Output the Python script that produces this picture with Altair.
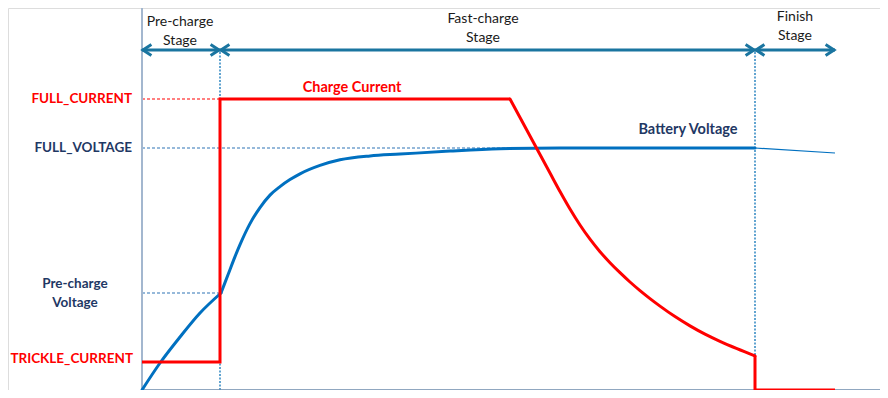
import altair as alt
import pandas as pd

# ---- schematic values (time and level in arbitrary units) ----
stage_bounds = [0, 78, 613, 693]
stage_names = ["Pre-charge\nStage", "Fast-charge\nStage", "Finish\nStage"]
stage_label_t = [38, 341, 653]
stage_label_y = [368, 371, 373]
arrow_level = 340

FULL_CURRENT = 291
FULL_VOLTAGE = 242
PRECHARGE_VOLTAGE = 97
TRICKLE_CURRENT = 28

# charge current: step part, tapering part, terminated part
current_step_t = [0, 78, 78, 368]
current_step_v = [28, 28, 291, 291]
current_taper_t = [368, 378, 388, 398, 408, 418, 428, 438, 448, 458, 468, 478, 488, 498,
                   508, 518, 533, 548, 563, 578, 595, 613]
current_taper_v = [291, 272.5, 254, 235.5, 217, 198.5, 181, 165, 150.8, 138.3, 127.3, 117.3, 108, 99.4,
                   91.4, 83.9, 73.4, 64.1, 55.8, 48.6, 41.3, 34.1]
current_end_t = [613, 613, 693]
current_end_v = [34.1, 0, 0]

# battery voltage: pre-charge part, fast-charge part, finish part
voltage_pre_t = [0, 18, 38, 58, 79]
voltage_pre_v = [0, 27, 53, 77, 97]
voltage_fast_t = [79, 86, 93, 98, 108, 118, 128, 138, 148, 158, 178, 198, 228, 258, 308, 358, 418, 613]
voltage_fast_v = [97, 115.2, 133.4, 145.4, 166.4, 182.4, 194.9, 203.4, 210.4, 216.2, 224.6, 230.2,
                  234.1, 235.9, 238.9, 241.2, 242, 242]
finish_t = [613, 693]
finish_v = [242, 237]

x_end = 743
y_top = 382

RED = "#ff0000"
BLUE = "#0070c0"
NAVY = "#1f3864"
ARROW = "#1a75a0"
DASH = "#2e86c1"
FONT = "Lato"

xs = alt.Scale(domain=[-134, 738], nice=False, zero=False)
ys = alt.Scale(domain=[0, 382], nice=False, zero=False)


def X(f):
    return alt.X(f, type="quantitative", scale=xs, axis=None)


def Y(f):
    return alt.Y(f, type="quantitative", scale=ys, axis=None)


# axes lines
yaxis = alt.Chart(pd.DataFrame({"t": [0], "a": [0], "b": [y_top]})).mark_rule(
    color="#a3b7cf", strokeWidth=2
).encode(x=X("t"), y=Y("a"), y2="b")
xaxis = alt.Chart(pd.DataFrame({"a": [0], "b": [x_end], "v": [0]})).mark_rule(
    color="#6b8aab", strokeWidth=1.5
).encode(x=X("a"), x2="b", y=Y("v"))

# dashed guide lines
vdash = alt.Chart(pd.DataFrame({"t": stage_bounds[1:3], "a": [0, 0], "b": [arrow_level - 2] * 2})).mark_rule(
    color=DASH, strokeWidth=1.5, strokeDash=[2, 1.5]
).encode(x=X("t"), y=Y("a"), y2="b")

hd = pd.DataFrame({
    "a": [0, 0, 0],
    "b": [stage_bounds[1], stage_bounds[2], stage_bounds[1]],
    "v": [FULL_CURRENT, FULL_VOLTAGE, PRECHARGE_VOLTAGE],
    "c": [RED, "#2e75b6", "#2e75b6"],
})
hdash = alt.Chart(hd).mark_rule(strokeWidth=1.2, strokeDash=[3, 2]).encode(
    x=X("a"), x2="b", y=Y("v"), color=alt.Color("c:N", scale=None)
)

# stage arrows
ad = pd.DataFrame({"a": stage_bounds[:-1], "b": stage_bounds[1:], "v": [arrow_level] * 3})
arrows = alt.Chart(ad).mark_rule(color=ARROW, strokeWidth=3).encode(x=X("a"), x2="b", y=Y("v"))

heads = []
for i in range(3):
    heads.append({"t": stage_bounds[i] + 1, "v": arrow_level, "ang": 180})
    heads.append({"t": stage_bounds[i + 1] - 1, "v": arrow_level, "ang": 0})
arrowheads = alt.Chart(pd.DataFrame(heads)).mark_point(
    shape="M -1.4 -0.9 L 0 0 L -1.4 0.9", filled=False, stroke=ARROW,
    strokeWidth=3, size=144, opacity=1
).encode(x=X("t"), y=Y("v"), angle=alt.Angle("ang:Q", scale=None))


def seg_df(pieces):
    rows = []
    for k, (ts, vs) in enumerate(pieces):
        for i, (t, v) in enumerate(zip(ts, vs)):
            rows.append({"t": t, "v": v, "seg": k, "i": i})
    return pd.DataFrame(rows)


# voltage curves
vline = alt.Chart(seg_df([(voltage_pre_t, voltage_pre_v), (voltage_fast_t, voltage_fast_v)])).mark_line(
    color=BLUE, strokeWidth=3, interpolate="monotone", strokeCap="round"
).encode(x=X("t"), y=Y("v"), detail="seg:N", order="i:Q")
fline = alt.Chart(pd.DataFrame({"t": finish_t, "v": finish_v})).mark_line(
    color=BLUE, strokeWidth=1.2
).encode(x=X("t"), y=Y("v"))

# current curves
cstep = alt.Chart(seg_df([(current_step_t, current_step_v), (current_end_t, current_end_v)])).mark_line(
    color=RED, strokeWidth=3, strokeJoin="miter"
).encode(x=X("t"), y=Y("v"), detail="seg:N", order="i:Q")
ctaper = alt.Chart(seg_df([(current_taper_t, current_taper_v)])).mark_line(
    color=RED, strokeWidth=3, interpolate="monotone", strokeCap="round"
).encode(x=X("t"), y=Y("v"), order="i:Q")

# stage labels
sdf = pd.DataFrame({"t": stage_label_t, "v": stage_label_y, "s": stage_names})
stext = alt.Chart(sdf).mark_text(
    font=FONT, fontSize=14, color="#1a1a1a", lineBreak="\n", lineHeight=19,
    align="center", baseline="middle"
).encode(x=X("t"), y=Y("v"), text="s:N")

# level labels
ldf = pd.DataFrame({
    "t": [-10, -10, -9],
    "v": [FULL_CURRENT, FULL_VOLTAGE, TRICKLE_CURRENT + 3],
    "s": ["FULL_CURRENT", "FULL_VOLTAGE", "TRICKLE_CURRENT"],
    "c": [RED, NAVY, RED],
})
ltext = alt.Chart(ldf).mark_text(
    font=FONT, fontSize=13.5, fontWeight="bold", align="right", baseline="middle"
).encode(x=X("t"), y=Y("v"), text="s:N", color=alt.Color("c:N", scale=None))

pdf = pd.DataFrame({"t": [-67], "v": [PRECHARGE_VOLTAGE + 9], "s": ["Pre-charge\nVoltage"]})
ptext = alt.Chart(pdf).mark_text(
    font=FONT, fontSize=13.5, fontWeight="bold", color=NAVY, lineBreak="\n", lineHeight=19,
    align="center", baseline="middle"
).encode(x=X("t"), y=Y("v"), text="s:N")

# series labels
nd = pd.DataFrame({
    "t": [210, 546], "v": [302, 260],
    "s": ["Charge Current", "Battery Voltage"], "c": [RED, NAVY],
})
ntext = alt.Chart(nd).mark_text(
    font=FONT, fontSize=14.5, fontWeight="bold", align="center", baseline="middle"
).encode(x=X("t"), y=Y("v"), text="s:N", color=alt.Color("c:N", scale=None))

chart = alt.layer(
    vdash, hdash, yaxis, xaxis, arrows, arrowheads, fline, vline, cstep, ctaper,
    stext, ltext, ptext, ntext
).properties(
    width=872, height=382, padding=0, autosize=alt.AutoSizeParams(type="none")
).configure_view(stroke=None).configure(background="white")

chart.save("out.html", embed_options={"renderer": "svg", "actions": False})
